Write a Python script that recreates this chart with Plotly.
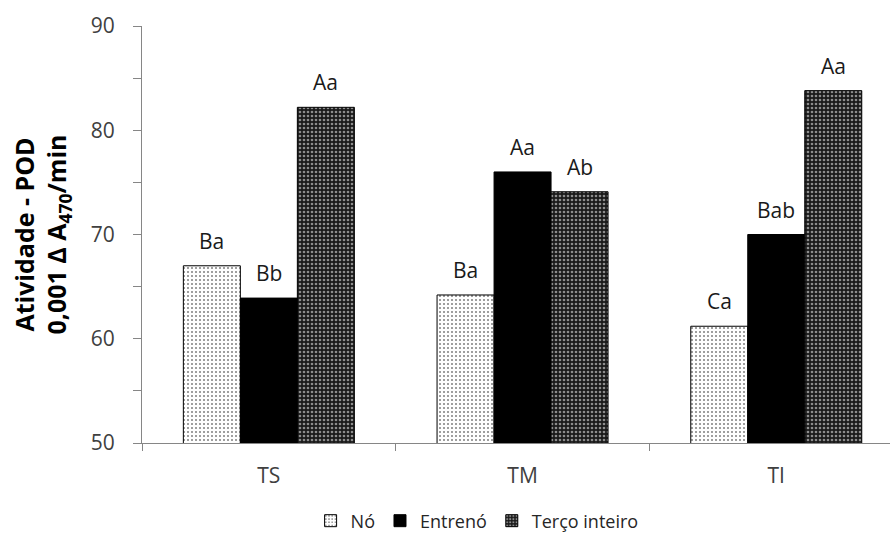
import plotly.graph_objects as go

categories = ["TS", "TM", "TI"]
series_names = ["Nó", "Entrenó", "Terço inteiro"]
no_vals = [67.0, 64.2, 61.2]
entreno_vals = [63.9, 76.0, 70.0]
terco_vals = [82.2, 74.1, 83.8]
no_labels = ["Ba", "Ba", "Ca"]
entreno_labels = ["Bb", "Aa", "Bab"]
terco_labels = ["Aa", "Ab", "Aa"]
y_ticks = [50, 60, 70, 80, 90]

FONT = "Open Sans"
W, H = 892, 545
L, R, T, B = 142, 2, 26, 102
plot_w = W - L - R
cat_px = 253.7
x_max = -0.5 + plot_w / cat_px

styles = [
    dict(color="white", line=dict(color="black", width=1),
         pattern=dict(shape=".", fgcolor="black", bgcolor="white", size=4, solidity=0.2)),
    dict(color="black", line=dict(color="black", width=1)),
    dict(color="black", line=dict(color="black", width=1),
         pattern=dict(shape=".", fgcolor="white", bgcolor="#1a1a1a", size=4, solidity=0.35)),
]

fig = go.Figure()
for name, vals, st in zip(series_names, [no_vals, entreno_vals, terco_vals], styles):
    fig.add_trace(go.Bar(x=categories, y=vals, name=name, marker=st))

bar_px = cat_px * (1 - 0.326) / 3
for k, labels in enumerate([no_labels, entreno_labels, terco_labels]):
    vals = [no_vals, entreno_vals, terco_vals][k]
    for c, v, lab in zip(categories, vals, labels):
        fig.add_annotation(x=c, y=v, text=lab, showarrow=False, xref="x", yref="y",
                           xshift=(k - 1) * bar_px, yshift=9, yanchor="bottom",
                           font=dict(family=FONT, size=21, color="#1a1a1a"))

fig.update_layout(
    width=W, height=H,
    margin=dict(l=L, r=R, t=T, b=B, autoexpand=False),
    paper_bgcolor="white", plot_bgcolor="white",
    barmode="group", bargap=0.326, bargroupgap=0,
    font=dict(family=FONT, size=20, color="#404040"),
    legend=dict(orientation="h", x=0.448, xanchor="center", y=-0.187, yanchor="middle",
                font=dict(family=FONT, size=18, color="#262626"),
                tracegroupgap=0),
    showlegend=True,
)
fig.update_xaxes(range=[-0.5, x_max], showline=True, linecolor="#868686", linewidth=1.3,
                 ticks="outside", tickson="boundaries", ticklen=7, tickcolor="#868686",
                 ticklabelstandoff=14,
                 tickfont=dict(family=FONT, size=21, color="#404040"), showgrid=False,
                 zeroline=False)
fig.update_yaxes(range=[50, 90], tickvals=y_ticks, showline=True, linecolor="#868686",
                 linewidth=1.3, ticks="outside", ticklen=8, tickcolor="#868686",
                 ticklabelstandoff=14,
                 minor=dict(dtick=5, ticks="outside", ticklen=8, tickcolor="#868686"),
                 tickfont=dict(family=FONT, size=21, color="#404040"), showgrid=False,
                 zeroline=False,
                 title=dict(text="<b>Atividade - POD<br>0,001 Δ A<sub>470</sub>/min</b>",
                            font=dict(family=FONT, size=25, color="black"), standoff=16))

fig.write_html("out.html")
